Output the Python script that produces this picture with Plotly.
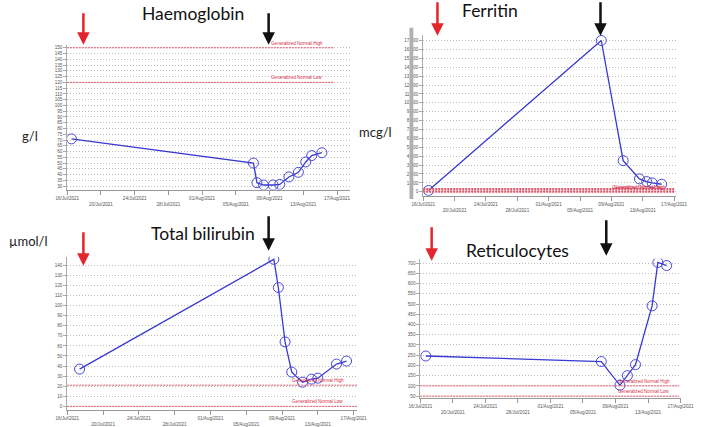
import plotly.graph_objects as go

W, H = 709, 427

# ---------------- data ----------------
hb_dates = ["2021-07-16 12:00", "2021-08-07 02:00", "2021-08-07 12:00", "2021-08-08 07:00",
            "2021-08-09 10:00", "2021-08-10 05:00", "2021-08-11 07:00", "2021-08-12 10:00",
            "2021-08-13 07:00", "2021-08-14 00:00", "2021-08-15 05:00"]
hb_values = [71, 50, 33, 31, 31, 31.5, 38, 42, 51, 56.5, 59]

fer_dates = ["2021-07-16 16:00", "2021-08-07 17:00", "2021-08-10 12:00", "2021-08-12 14:00",
             "2021-08-13 12:00", "2021-08-14 05:00", "2021-08-15 10:00"]
fer_values = [150, 17000, 3500, 1450, 1150, 1000, 850]

bil_dates = ["2021-07-17 09:00", "2021-08-08 02:00", "2021-08-08 14:00", "2021-08-09 08:00",
             "2021-08-10 02:00", "2021-08-11 07:00", "2021-08-12 07:00", "2021-08-13 00:00",
             "2021-08-15 02:00", "2021-08-16 05:00"]
bil_values = [37, 146, 118, 64, 34, 24, 27, 28, 42, 45]

ret_dates = ["2021-07-16 16:00", "2021-08-07 06:00", "2021-08-09 13:00", "2021-08-10 11:00",
             "2021-08-11 11:00", "2021-08-13 12:00", "2021-08-14 05:00", "2021-08-15 07:00"]
ret_values = [246, 219, 103, 150, 204, 491, 703, 688]

tick_dates = ["2021-07-16", "2021-07-20", "2021-07-24", "2021-07-28", "2021-08-01",
              "2021-08-05", "2021-08-09", "2021-08-13", "2021-08-17"]
tick_labels = ["16/Jul/2021", "20/Jul/2021", "24/Jul/2021", "28/Jul/2021", "01/Aug/2021",
               "05/Aug/2021", "09/Aug/2021", "13/Aug/2021", "17/Aug/2021"]

hb_ticks = list(range(30, 151, 5))
fer_ticks = list(range(0, 17001, 1000))
bil_ticks = list(range(0, 141, 10))
ret_ticks = list(range(50, 701, 50))

titles = ["Haemoglobin", "Ferritin", "Total bilirubin", "Reticulocytes"]
units = ["g/l", "mcg/l", "µmol/l", ""]
normal_high = [150, 300, 21, 100]
normal_low = [120, 20, 0, 50]
normal_high_label = "Generalized Normal High"
normal_low_label = "Generalized Normal Low"

# ---------------- layout helpers ----------------
def xd(a, b):
    return [a / W, b / W]

def yd(top, bot):
    return [1 - bot / H, 1 - top / H]

def px(x):
    return x / W

def py(y):
    return 1 - y / H

ticktext = [t if i % 2 == 0 else "<br>" + t for i, t in enumerate(tick_labels)]

panels = [
    dict(dates=hb_dates, vals=hb_values, xdom=xd(57.3, 350), ydom=yd(45, 190.5),
         xr=["2021-07-16", "2021-08-18 12:00"], yr=[27, 152.6],
         ytv=hb_ticks, ytt=[str(v) for v in hb_ticks], line_end="2021-08-16 14:00",
         lab_x="2021-08-12 05:00"),
    dict(dates=fer_dates, vals=fer_values, xdom=xd(426.3, 688), ydom=yd(35, 196.7),
         xr=["2021-07-16", "2021-08-17 05:00"], yr=[-447, 17637],
         ytv=fer_ticks, ytt=[f"{v:,}" for v in fer_ticks], line_end="2021-08-17",
         lab_x="2021-08-12 08:00"),
    dict(dates=bil_dates, vals=bil_values, xdom=xd(57.3, 358), ydom=yd(258, 411.7),
         xr=["2021-07-16", "2021-08-17 10:00"], yr=[-3.4, 148.5],
         ytv=bil_ticks, ytt=[str(v) for v in bil_ticks], line_end="2021-08-17 10:00",
         lab_x="2021-08-13"),
    dict(dates=ret_dates, vals=ret_values, xdom=xd(423.3, 693), ydom=yd(260, 399.5),
         xr=["2021-07-16", "2021-08-17"], yr=[42.7, 721],
         ytv=ret_ticks, ytt=[str(v) for v in ret_ticks], line_end="2021-08-16 20:00",
         lab_x="2021-08-12 12:00"),
]

fig = go.Figure()
layout = dict(width=W, height=H, margin=dict(l=0, r=0, t=0, b=0),
              paper_bgcolor="white", plot_bgcolor="white", showlegend=False,
              font=dict(family="Liberation Sans, Arial, sans-serif", size=5, color="#555555"))
shapes = []
annotations = []

tickfont = dict(size=4.6, color="#555555", family="Liberation Sans, Arial, sans-serif")
red = "#e0566a"
redtxt = "#d8304c"

for i, p in enumerate(panels):
    n = "" if i == 0 else str(i + 1)
    xa, ya = "x" + n, "y" + n
    fig.add_trace(go.Scatter(
        x=p["dates"], y=p["vals"], xaxis=xa, yaxis=ya, mode="lines+markers",
        line=dict(color="#3838d2", width=1.3),
        marker=dict(symbol="circle-open", size=10, color="#4848d8", line=dict(width=1)),
        hoverinfo="skip"))
    layout["xaxis" + n] = dict(
        domain=p["xdom"], anchor=ya, type="date", range=p["xr"],
        tickvals=tick_dates, ticktext=ticktext, tickfont=tickfont,
        showgrid=False, showline=True, linecolor="#999999", linewidth=1,
        ticks="outside", ticklen=4, tickcolor="#999999", zeroline=False)
    layout["yaxis" + n] = dict(
        domain=p["ydom"], anchor=xa, range=p["yr"], tickvals=p["ytv"],
        ticktext=p["ytt"], tickfont=tickfont,
        showgrid=True, gridcolor="#bdbdbd", griddash="1px,2px", gridwidth=1,
        showline=True, linecolor="#aaaaaa", linewidth=1,
        ticks="outside", ticklen=3, tickcolor="#aaaaaa", zeroline=False)
    lw = 2.2 if i == 1 else 1
    for val in (normal_high[i], normal_low[i]):
        shapes.append(dict(type="line", xref=xa, yref=ya, x0=tick_dates[0], x1=p["line_end"],
                           y0=val, y1=val, line=dict(color=red, width=lw, dash="2px,1px"),
                           layer="above"))
    if i == 1:
        annotations.append(dict(xref=xa, yref=ya, x=p["lab_x"], y=500, text=normal_low_label,
                                showarrow=False, yanchor="middle",
                                font=dict(size=4.6, color=redtxt)))
        annotations.append(dict(xref=xa, yref=ya, x=p["lab_x"], y=500, text=normal_high_label,
                                showarrow=False, yanchor="middle", xshift=2,
                                font=dict(size=4.6, color=redtxt)))
    else:
        annotations.append(dict(xref=xa, yref=ya, x=p["lab_x"], y=normal_high[i],
                                text=normal_high_label, showarrow=False, yanchor="bottom",
                                font=dict(size=4.6, color=redtxt)))
        annotations.append(dict(xref=xa, yref=ya, x=p["lab_x"], y=normal_low[i],
                                text=normal_low_label, showarrow=False, yanchor="bottom",
                                font=dict(size=4.6, color=redtxt)))

# Ferritin grey bar
shapes.append(dict(type="rect", xref="paper", yref="paper", x0=px(412), x1=px(416),
                   y0=py(200), y1=py(28), fillcolor="#b0b0b0", line=dict(width=0)))

# Titles
title_pos = [(188, 14), (495, 11), (198, 235), (524, 252)]
for t, (x, y) in zip(titles, title_pos):
    annotations.append(dict(xref="paper", yref="paper", x=px(x), y=py(y), text=t,
                            showarrow=False, xanchor="center", yanchor="middle",
                            font=dict(family="Lato, Open Sans, sans-serif", size=17.5,
                                      color="#111111")))

# Units
unit_pos = [(19, 137), (377, 133), (17, 242), (0, 0)]
for u, (x, y) in zip(units, unit_pos):
    if u:
        annotations.append(dict(xref="paper", yref="paper", x=px(x), y=py(y), text=u,
                                showarrow=False, xanchor="center", yanchor="middle",
                                font=dict(family="Lato, Open Sans, sans-serif", size=13,
                                          color="#222222")))

# Arrows (x, tail y, tip y, colour)
arrows = [(74, 12, 45, "#e3262c"), (266, 12, 45, "#111111"),
          (441, 1, 36, "#e3262c"), (610, 1, 36, "#111111"),
          (74, 232, 267, "#e3262c"), (266, 216, 252, "#111111"),
          (435, 227, 262, "#e3262c"), (616, 220, 257, "#111111")]
for x, y0, y1, c in arrows:
    annotations.append(dict(xref="paper", yref="paper", x=px(x), y=py(y1), ax=0, ay=-(y1 - y0),
                            axref="pixel", ayref="pixel", text="", showarrow=True,
                            arrowhead=2, arrowsize=1.0, arrowwidth=2.5, arrowcolor=c))

layout["shapes"] = shapes
layout["annotations"] = annotations
fig.update_layout(**layout)
fig.write_html("out.html")
